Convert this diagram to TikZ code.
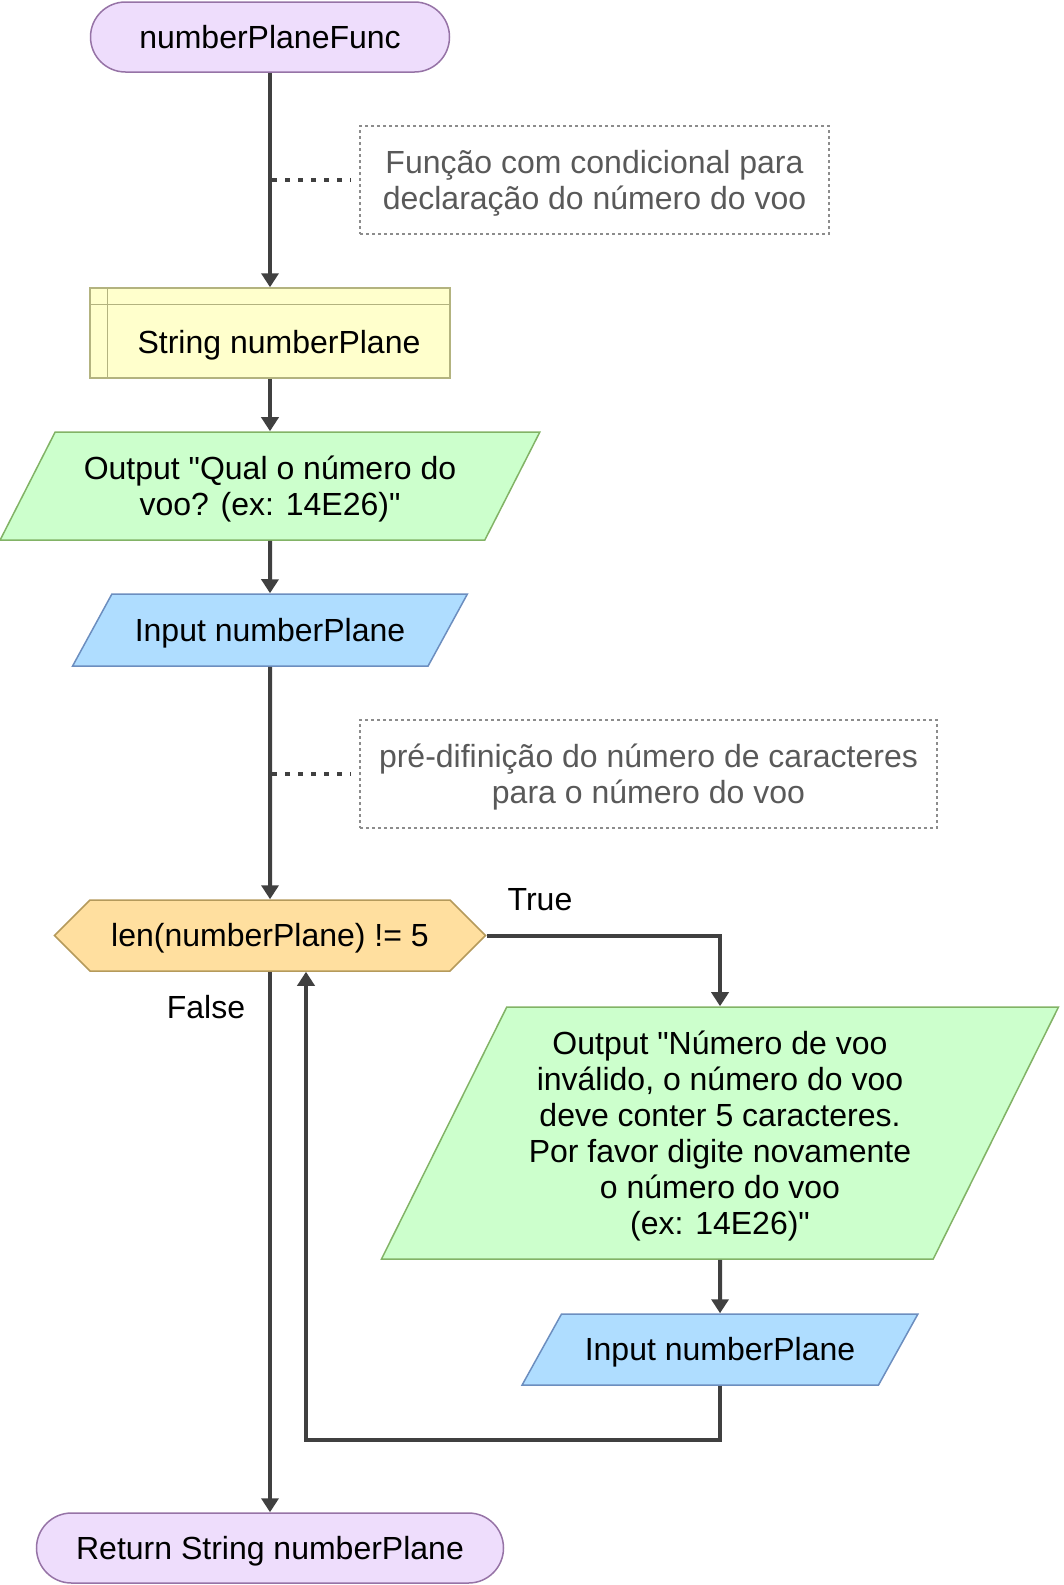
\documentclass[tikz,border=0pt]{standalone}
\usepackage{fontspec}
\setmainfont{Liberation Sans}
\usetikzlibrary{arrows.meta,shapes.geometric,shapes.symbols}

\definecolor{termfill}{HTML}{EEDDFC}
\definecolor{termline}{HTML}{9673A6}
\definecolor{storefill}{HTML}{FFFFCC}
\definecolor{storeline}{HTML}{B3B37F}
\definecolor{outfill}{HTML}{CCFFCC}
\definecolor{outgreen}{HTML}{82B366}
\definecolor{infill}{HTML}{AFDDFF}
\definecolor{inblue}{HTML}{6C8EBF}
\definecolor{decfill}{HTML}{FFDF9F}
\definecolor{decline}{HTML}{B59A5B}
\definecolor{flowline}{HTML}{404040}
\definecolor{notegray}{HTML}{8C8C8C}
\definecolor{notetext}{HTML}{595959}

% strut with the ascent and descent of the font
\newcommand{\linestrut}{\rule[-6.8pt]{0pt}{35.8pt}}

\tikzset{
  base/.style={font=\fontsize{32}{36}\selectfont, align=center, inner sep=0pt, line width=1.5pt},
  struts/.style={execute at begin node=\linestrut, execute at end node=\linestrut},
  terminal/.style={base, struts, rectangle, rounded corners=35pt, draw=termline, fill=termfill},
  storage/.style={base, rectangle, draw=storeline, fill=storefill},
  % #1 = slant angle of the parallelogram
  outbox/.style={base, struts, trapezium, trapezium left angle=#1, trapezium right angle=180-#1,
    trapezium stretches=true, draw=outgreen, fill=outfill},
  inbox/.style={base, struts, trapezium, trapezium left angle=#1, trapezium right angle=180-#1,
    trapezium stretches=true, draw=inblue, fill=infill},
  decision/.style={base, struts, signal, signal to=west and east, signal pointer angle=90,
    draw=decline, fill=decfill},
  notebox/.style={base, struts, rectangle, draw=notegray, dash pattern=on 3pt off 3pt, text=notetext},
  flow/.style={draw=flowline, line width=4pt, -{Triangle[length=14pt,width=17pt]}},
  hint/.style={draw=flowline, line width=4pt, dash pattern=on 5pt off 8pt},
  tag/.style={struts, font=\fontsize{32}{36}\selectfont, inner sep=0pt}
}

\begin{document}
\begin{tikzpicture}[x=1pt, y=-1pt]
    \useasboundingbox (0,0) rectangle (1063,1585);

    % Start and end of the function
    \node[terminal, minimum width=359pt, minimum height=70pt] (start) at (270,37) {numberPlaneFunc};
    \node[terminal, minimum width=467pt, minimum height=70pt] (finish) at (270,1548) {Return String numberPlane};

    % Variable declaration
    \node[storage, minimum width=360pt, minimum height=90pt] (str) at (270,333)
        {\raisebox{-20pt}[0pt][0pt]{\hspace*{18pt}String numberPlane}};
    \draw[storeline, line width=1.5pt] ([xshift=18pt]str.north west) -- ([xshift=18pt]str.south west);
    \draw[storeline, line width=1.5pt] ([yshift=-17pt]str.north west) -- ([yshift=-17pt]str.north east);

    % First question and answer
    \node[outbox=56.4, minimum width=540pt, minimum height=108pt] (out1) at (270,486)
        {\linestrut Output \textquotedbl Qual o número do\\voo? (ex: 14E26)\textquotedbl\linestrut};
    \node[inbox=46.8, minimum width=395pt, minimum height=72pt] (in1) at (270,630) {Input numberPlane};

    % Check of the length
    \node[decision, minimum width=431pt, minimum height=71pt] (check) at (270,935.5) {len(numberPlane) != 5};

    % Repeated question
    \node[outbox=62.5, minimum width=683pt, minimum height=252pt] (out2) at (720,1133)
        {\linestrut Output \textquotedbl Número de voo\\inválido, o número do voo\\deve conter 5 caracteres.\\Por favor digite novamente\\o número do voo\\(ex: 14E26)\textquotedbl\linestrut};
    \node[inbox=46.8, minimum width=396pt, minimum height=71pt] (in2) at (720,1349.5) {Input numberPlane};

    % Comments
    \node[notebox, minimum width=469pt, minimum height=108pt] (note1) at (594.5,180)
        {\linestrut Função com condicional para\\declaração do número do voo\linestrut};
    \node[notebox, minimum width=577pt, minimum height=108pt] (note2) at (648.5,774)
        {\linestrut pré-difinição do número de caracteres\\para o número do voo\linestrut};
    \coordinate (hook1) at (272,180);
    \coordinate (hook2) at (272,774);

    % Connectors
    \draw[flow] (start) -- (str);
    \draw[flow] (str) -- (out1);
    \draw[flow] (out1) -- (in1);
    \draw[flow] (in1) -- (check);
    \draw[flow] (check.east) -| (out2.north);
    \draw[flow] (out2) -- (in2);
    \draw[flow] (in2.south) -- ++(0,54) -| ([xshift=36pt]check.south);
    \draw[flow] (check.south) -- (finish.north);
    \draw[hint] (hook1) -- ([xshift=-9pt]note1.west);
    \draw[hint] (hook2) -- ([xshift=-9pt]note2.west);

    % Branch labels
    \node[tag] (truelbl) at (540,899) {True};
    \node[tag] (falselbl) at (206,1007) {False};
\end{tikzpicture}
\end{document}
